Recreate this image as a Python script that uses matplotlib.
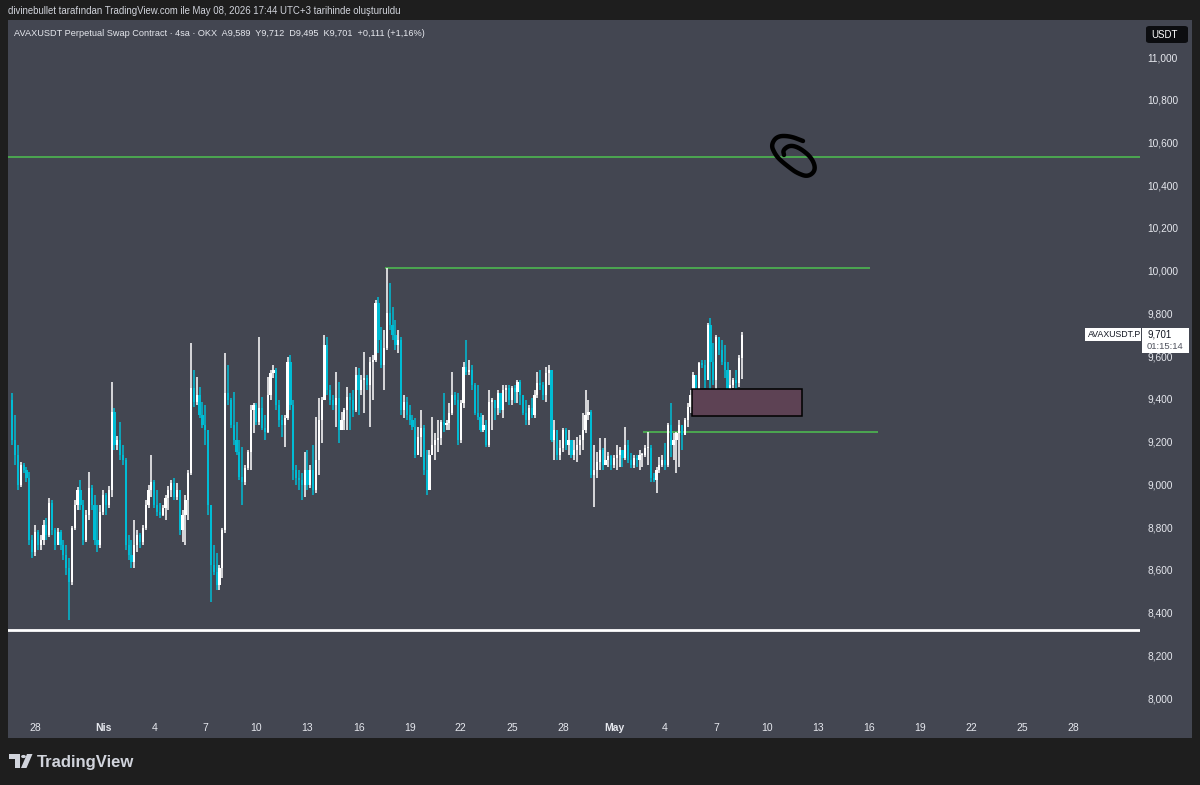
import numpy as np
import pandas as pd
import matplotlib
matplotlib.use("Agg")
import matplotlib.pyplot as plt
import matplotlib.dates as mdates
import matplotlib.transforms as mtransforms
from matplotlib.patches import Rectangle, FancyBboxPatch, Polygon, Circle
from matplotlib.lines import Line2D

plt.rcParams['font.family'] = ['Liberation Sans', 'DejaVu Sans']

# ---- data: AVAXUSDT.P 4h candles ----
last_bar = '2026-05-08 12:00'
first_open = 9.395
closes = [
    9.208, 9.137, 8.997, 9.091, 9.067, 9.029, 8.740, 8.684, 8.777, 8.717,
    8.740, 8.810, 8.763, 8.913, 8.787, 8.717, 8.777, 8.717, 8.670, 8.608,
    8.543, 8.796, 8.904, 8.974, 8.904, 8.740, 8.857, 8.983, 8.904, 8.740,
    8.717, 8.871, 8.950, 8.904, 8.974, 9.339, 9.184, 9.208, 9.138, 9.114,
    8.717, 8.670, 8.637, 8.717, 8.763, 8.731, 8.796, 8.904, 8.974, 9.011,
    8.904, 8.871, 8.857, 8.890, 8.936, 8.974, 9.006, 8.941, 8.974, 8.787,
    8.857, 8.927, 9.053, 9.451, 9.386, 9.418, 9.325, 9.278, 9.254, 8.904,
    8.623, 8.590, 8.529, 8.608, 8.787, 9.428, 9.395, 9.278, 9.208, 9.152,
    9.034, 9.011, 9.077, 9.152, 9.348, 9.372, 9.292, 9.358, 9.264, 9.245,
    9.418, 9.521, 9.535, 9.372, 9.301, 9.278, 9.311, 9.573, 9.372, 9.067,
    9.029, 9.020, 8.997, 9.067, 8.997, 9.067, 8.974, 9.114, 9.301, 9.395,
    9.652, 9.442, 9.395, 9.372, 9.404, 9.254, 9.301, 9.348, 9.409, 9.395,
    9.348, 9.512, 9.442, 9.488, 9.498, 9.465, 9.573, 9.582, 9.849, 9.676,
    9.559, 9.638, 9.802, 9.746, 9.699, 9.652, 9.676, 9.348, 9.386, 9.325,
    9.301, 9.269, 9.138, 9.222, 9.264, 9.067, 8.974, 9.138, 9.184, 9.208,
    9.217, 9.292, 9.278, 9.287, 9.334, 9.418, 9.395, 9.208, 9.381, 9.549,
    9.526, 9.535, 9.465, 9.334, 9.315, 9.254, 9.278, 9.184, 9.386, 9.395,
    9.358, 9.428, 9.348, 9.442, 9.451, 9.395, 9.451, 9.432, 9.479, 9.418,
    9.334, 9.301, 9.358, 9.325, 9.418, 9.474, 9.465, 9.418, 9.521, 9.535,
    9.208, 9.254, 9.138, 9.170, 9.254, 9.184, 9.208, 9.138, 9.161, 9.184,
    9.208, 9.254, 9.325, 9.339, 9.044, 9.067, 9.105, 9.161, 9.091, 9.114,
    9.133, 9.091, 9.124, 9.138, 9.161, 9.124, 9.184, 9.114, 9.091, 9.124,
    9.114, 9.138, 9.138, 9.170, 9.170, 9.029, 9.020, 9.067, 9.091, 9.114,
    9.091, 9.278, 9.184, 9.208, 9.240, 9.278, 9.231, 9.301, 9.362, 9.418,
    9.512, 9.395, 9.568, 9.559, 9.488, 9.746, 9.573, 9.488, 9.690, 9.628,
    9.573, 9.535, 9.442, 9.465, 9.488, 9.474, 9.589, 9.701,
]
highs = [
    9.428, 9.325, 9.185, 9.105, 9.100, 9.081, 9.058, 8.763, 8.810, 8.787,
    8.763, 8.833, 8.842, 8.936, 8.927, 8.796, 8.796, 8.787, 8.740, 8.717,
    8.655, 8.805, 8.927, 8.987, 9.020, 8.927, 8.880, 9.058, 8.997, 8.950,
    8.904, 8.904, 8.974, 8.960, 8.992, 9.479, 9.358, 9.226, 9.292, 9.184,
    9.123, 8.763, 8.740, 8.833, 8.787, 8.773, 8.810, 8.927, 8.997, 9.138,
    9.020, 8.974, 8.913, 8.904, 8.950, 8.992, 9.020, 9.029, 9.006, 8.974,
    8.880, 8.950, 9.067, 9.661, 9.535, 9.502, 9.456, 9.386, 9.372, 9.231,
    8.904, 8.717, 8.679, 8.623, 8.796, 9.615, 9.559, 9.404, 9.432, 9.292,
    9.208, 9.175, 9.091, 9.161, 9.372, 9.381, 9.381, 9.690, 9.409, 9.325,
    9.502, 9.535, 9.559, 9.545, 9.395, 9.325, 9.325, 9.596, 9.605, 9.395,
    9.091, 9.067, 9.053, 9.152, 9.161, 9.091, 9.184, 9.315, 9.404, 9.409,
    9.699, 9.690, 9.465, 9.418, 9.526, 9.479, 9.339, 9.358, 9.456, 9.428,
    9.442, 9.549, 9.545, 9.512, 9.619, 9.512, 9.596, 9.605, 9.863, 9.877,
    9.736, 9.723, 10.013, 9.942, 9.830, 9.769, 9.723, 9.690, 9.418, 9.409,
    9.372, 9.325, 9.311, 9.269, 9.348, 9.278, 9.161, 9.161, 9.315, 9.240,
    9.301, 9.301, 9.428, 9.301, 9.381, 9.526, 9.432, 9.428, 9.395, 9.573,
    9.676, 9.582, 9.559, 9.474, 9.465, 9.334, 9.325, 9.301, 9.442, 9.404,
    9.372, 9.442, 9.428, 9.465, 9.465, 9.465, 9.460, 9.465, 9.488, 9.488,
    9.418, 9.395, 9.372, 9.404, 9.442, 9.526, 9.535, 9.479, 9.549, 9.559,
    9.526, 9.301, 9.254, 9.208, 9.264, 9.264, 9.254, 9.208, 9.208, 9.222,
    9.231, 9.334, 9.442, 9.395, 9.348, 9.184, 9.152, 9.217, 9.170, 9.217,
    9.152, 9.138, 9.138, 9.184, 9.175, 9.161, 9.269, 9.208, 9.147, 9.138,
    9.138, 9.161, 9.147, 9.184, 9.245, 9.184, 9.053, 9.081, 9.128, 9.138,
    9.194, 9.287, 9.381, 9.240, 9.245, 9.301, 9.254, 9.311, 9.381, 9.442,
    9.526, 9.488, 9.573, 9.582, 9.582, 9.755, 9.779, 9.661, 9.699, 9.685,
    9.676, 9.652, 9.573, 9.535, 9.498, 9.535, 9.605, 9.712,
]
lows = [
    9.184, 9.091, 8.974, 8.987, 9.053, 9.011, 8.717, 8.655, 8.665, 8.693,
    8.693, 8.717, 8.740, 8.754, 8.763, 8.693, 8.717, 8.693, 8.646, 8.576,
    8.365, 8.529, 8.787, 8.880, 8.880, 8.717, 8.731, 8.833, 8.880, 8.717,
    8.684, 8.703, 8.857, 8.857, 8.890, 8.941, 9.161, 9.161, 9.114, 9.091,
    8.693, 8.646, 8.608, 8.608, 8.684, 8.703, 8.717, 8.787, 8.890, 8.941,
    8.890, 8.852, 8.843, 8.852, 8.833, 8.880, 8.941, 8.927, 8.927, 8.763,
    8.731, 8.717, 8.833, 9.044, 9.362, 9.372, 9.311, 9.264, 9.184, 8.857,
    8.450, 8.576, 8.506, 8.506, 8.562, 8.773, 9.372, 9.264, 9.184, 9.138,
    9.020, 8.904, 8.997, 9.067, 9.067, 9.240, 9.278, 9.278, 9.254, 9.208,
    9.240, 9.395, 9.498, 9.348, 9.269, 9.222, 9.175, 9.301, 9.348, 9.020,
    8.997, 8.974, 8.927, 8.941, 8.974, 8.983, 8.950, 8.960, 9.044, 9.194,
    9.395, 9.418, 9.372, 9.348, 9.269, 9.194, 9.264, 9.254, 9.254, 9.254,
    9.315, 9.339, 9.325, 9.418, 9.334, 9.442, 9.269, 9.395, 9.573, 9.615,
    9.545, 9.442, 9.628, 9.723, 9.676, 9.628, 9.615, 9.325, 9.311, 9.301,
    9.278, 9.254, 9.124, 9.138, 9.128, 9.044, 8.950, 8.974, 9.138, 9.114,
    9.152, 9.184, 9.245, 9.254, 9.254, 9.325, 9.372, 9.184, 9.194, 9.358,
    9.512, 9.512, 9.442, 9.325, 9.301, 9.245, 9.245, 9.175, 9.175, 9.254,
    9.301, 9.325, 9.334, 9.311, 9.386, 9.372, 9.372, 9.381, 9.381, 9.372,
    9.325, 9.278, 9.278, 9.311, 9.311, 9.404, 9.442, 9.395, 9.386, 9.465,
    9.198, 9.114, 9.114, 9.114, 9.152, 9.161, 9.138, 9.124, 9.114, 9.105,
    9.138, 9.161, 9.240, 9.301, 9.029, 8.894, 9.029, 9.067, 9.067, 9.091,
    9.081, 9.067, 9.077, 9.067, 9.081, 9.081, 9.114, 9.100, 9.077, 9.077,
    9.081, 9.067, 9.081, 9.128, 9.091, 9.011, 9.011, 8.960, 9.053, 9.081,
    9.067, 9.081, 9.128, 9.114, 9.053, 9.081, 9.161, 9.240, 9.269, 9.334,
    9.395, 9.348, 9.362, 9.545, 9.451, 9.549, 9.442, 9.465, 9.442, 9.605,
    9.559, 9.498, 9.409, 9.404, 9.451, 9.442, 9.456, 9.495,
]

# horizontal levels / drawings (price, start, end)
level_top = 10.532
level_high = (10.012, '2026-04-17 13:00', '2026-05-16 01:00')
level_mid = (9.245, '2026-05-02 17:00', '2026-05-16 12:00')
level_low = 8.318
zone = ('2026-05-05 14:00', '2026-05-12 01:00', 9.320, 9.446)

# axis ticks
price_ticks = [8.0, 8.2, 8.4, 8.6, 8.8, 9.0, 9.2, 9.4, 9.6, 9.8,
               10.0, 10.2, 10.4, 10.6, 10.8, 11.0]
date_ticks = ['2026-03-28', '2026-04-01', '2026-04-04', '2026-04-07', '2026-04-10',
              '2026-04-13', '2026-04-16', '2026-04-19', '2026-04-22', '2026-04-25',
              '2026-04-28', '2026-05-01', '2026-05-04', '2026-05-07', '2026-05-10',
              '2026-05-13', '2026-05-16', '2026-05-19', '2026-05-22', '2026-05-25',
              '2026-05-28']
date_labels = ['28', 'Nis', '4', '7', '10', '13', '16', '19', '22', '25', '28',
               'May', '4', '7', '10', '13', '16', '19', '22', '25', '28']
month_labels = {'Nis', 'May'}

assert len(closes) == len(highs) == len(lows)

# ---- style ----
W, H = 1200, 785
BG = '#1e1e1e'
PANEL = '#434651'
TXT = '#d1d4dc'
AXTXT = '#e6e8ee'
UP = '#ffffff'
DOWN = '#00bcd4'
GREEN = '#4caf50'


def fx(px):
    return px / W


def fy(py):
    return 1 - py / H


fig = plt.figure(figsize=(W / 100, H / 100), dpi=100, facecolor=BG)
fig.add_artist(Rectangle((fx(8), fy(738)), fx(1192) - fx(8), fy(20) - fy(738),
                         transform=fig.transFigure, facecolor=PANEL,
                         edgecolor='none', zorder=0))

ax = fig.add_axes([fx(8), fy(715), fx(1140) - fx(8), fy(20) - fy(715)])
ax.set_facecolor('none')
for s in ax.spines.values():
    s.set_visible(False)

times = pd.date_range(end=last_bar, periods=len(closes), freq='4h')
t = mdates.date2num(times.to_pydatetime())
c = np.array(closes)
o = np.concatenate([[first_open], c[:-1]])
hi = np.maximum(np.array(highs), np.maximum(o, c))
lo = np.minimum(np.array(lows), np.minimum(o, c))
cols = np.where(c >= o, UP, DOWN)

ax.vlines(t, lo, hi, colors=cols, lw=1.1, zorder=3)
body = np.maximum(np.abs(c - o), 0.004)
ax.bar(t, body, bottom=np.minimum(o, c), width=0.13, color=cols,
       linewidth=0, zorder=4)

d = lambda s: mdates.date2num(pd.Timestamp(s).to_pydatetime())

ax.axhline(level_top, color=GREEN, lw=1.3, zorder=2)
ax.hlines(level_high[0], d(level_high[1]), d(level_high[2]), color=GREEN, lw=1.3, zorder=2)
ax.hlines(level_mid[0], d(level_mid[1]), d(level_mid[2]), color=GREEN, lw=1.3, zorder=2)
ax.axhline(level_low, color='#ffffff', lw=2, zorder=2)
ax.add_patch(Rectangle((d(zone[0]), zone[2]), d(zone[1]) - d(zone[0]), zone[3] - zone[2],
                       facecolor='#5d4254', edgecolor='#000000', lw=1.1, zorder=5))

day0 = d('2026-03-28')
ax.set_xlim(day0 - 1.585, day0 + 64.89)
ax.set_ylim(7.9205, 11.1732)

ax.set_yticks(price_ticks)
ax.set_yticklabels([f'{v:.3f}'.replace('.', ',') for v in price_ticks])
ax.yaxis.tick_right()
ax.tick_params(axis='y', length=0, pad=5.5, labelsize=7.3, labelcolor=AXTXT)

ax.set_xticks([d(s) for s in date_ticks])
ax.set_xticklabels(date_labels)
ax.tick_params(axis='x', length=0, pad=6, labelsize=7.5, labelcolor=AXTXT)
for lab in ax.get_xticklabels():
    if lab.get_text() in month_labels:
        lab.set_fontweight('bold')

# ---- texts ----
fig.text(fx(8), fy(11), 'divinebullet tarafından TradingView.com ile May 08, 2026 17:44 UTC+3 tarihinde oluşturuldu',
         color=TXT, fontsize=6.9, va='center', ha='left')
fig.text(fx(14), fy(33), 'AVAXUSDT Perpetual Swap Contract · 4sa · OKX  A9,589  Y9,712  D9,495  K9,701  +0,111 (+1,16%)',
         color=AXTXT, fontsize=6.55, va='center', ha='left')

# USDT badge
fig.add_artist(FancyBboxPatch((fx(1146), fy(43)), fx(1188) - fx(1146), fy(26) - fy(43),
                              boxstyle='round,pad=0,rounding_size=0.003',
                              transform=fig.transFigure, facecolor='#0c0d10',
                              edgecolor='none', zorder=5))
fig.text(fx(1151), fy(34.5), 'USDT', color='#ffffff', fontsize=7, va='center', ha='left', zorder=6)

# last price tag
last = closes[-1]
bt = mtransforms.blended_transform_factory(fig.transFigure, ax.transData)
ppx = 1 / 213.67
fig.add_artist(Rectangle((fx(1085), last - 6.5 * ppx), fx(1141) - fx(1085), 13 * ppx,
                         transform=bt, facecolor='#ffffff', edgecolor='none', zorder=7))
fig.text(fx(1088), last, 'AVAXUSDT.P', transform=bt, color='#131722', fontsize=6.3,
         va='center', ha='left', zorder=8)
fig.add_artist(Rectangle((fx(1142), last - 18 * ppx), fx(1189) - fx(1142), 25 * ppx,
                         transform=bt, facecolor='#ffffff', edgecolor='none', zorder=7))
fig.text(fx(1147), last, f'{last:.3f}'.replace('.', ','), transform=bt, color='#131722',
         fontsize=7, va='center', ha='left', zorder=8)
fig.text(fx(1147), last - 11.5 * ppx, '01:15:14', transform=bt, color='#50535e',
         fontsize=6.8, va='center', ha='left', zorder=8)

# hand drawn scribble
pts = np.array([(803, 141), (790, 136), (777, 136), (771, 145), (775, 154), (780, 160),
                (790, 168), (797, 173), (808, 177), (816, 170), (812, 158), (800, 148),
                (790, 145), (783, 150), (784, 155)], dtype=float)
for _ in range(3):
    q = 0.75 * pts[:-1] + 0.25 * pts[1:]
    r = 0.25 * pts[:-1] + 0.75 * pts[1:]
    pts = np.vstack([pts[:1], np.column_stack([q, r]).reshape(-1, 2), pts[-1:]])
fig.add_artist(Line2D(fx(pts[:, 0]), fy(pts[:, 1]), transform=fig.transFigure,
                      color='#000000', lw=3.2, solid_capstyle='round',
                      solid_joinstyle='round', zorder=9))

# TradingView logo
fig.add_artist(Polygon([(fx(9), fy(754)), (fx(20), fy(754)), (fx(20), fy(768)),
                        (fx(14.5), fy(768)), (fx(14.5), fy(759)), (fx(9), fy(759))],
                       closed=True, transform=fig.transFigure, facecolor=TXT, edgecolor='none'))
fig.add_artist(Circle((fx(23.5), fy(756.5)), 2.4 / W, transform=fig.transFigure,
                      facecolor=TXT, edgecolor='none'))
fig.add_artist(Polygon([(fx(27), fy(754)), (fx(32.5), fy(754)), (fx(26.5), fy(768)),
                        (fx(21), fy(768))], closed=True, transform=fig.transFigure,
                       facecolor=TXT, edgecolor='none'))
fig.text(fx(37), fy(762), 'TradingView', color=TXT, fontsize=12, va='center',
         ha='left', fontweight='bold')

fig.savefig('out.png', dpi=100, facecolor=BG)
